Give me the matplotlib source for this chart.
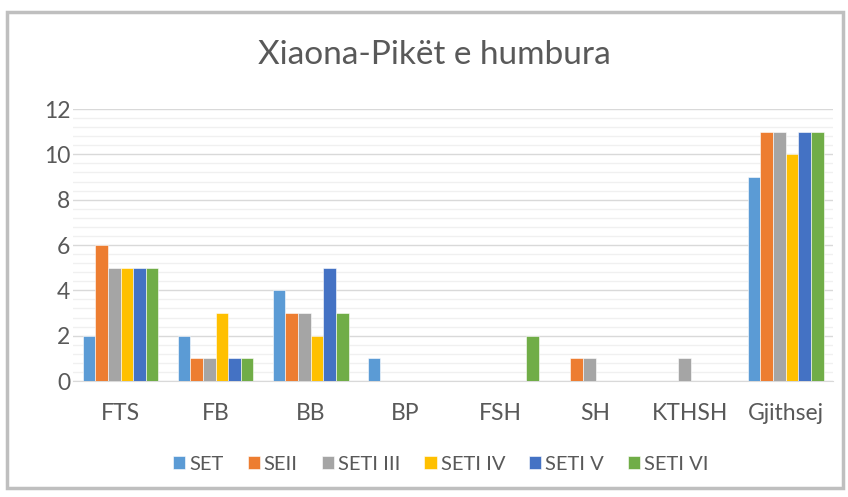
import numpy as np
import matplotlib
matplotlib.use("Agg")
import matplotlib.pyplot as plt
from matplotlib.patches import Rectangle
from matplotlib.ticker import MultipleLocator

plt.rcParams['font.family'] = ['Lato', 'DejaVu Sans']

categories = ['FTS', 'FB', 'BB', 'BP', 'FSH', 'SH', 'KTHSH', 'Gjithsej']
series_names = ['SET', 'SEII', 'SETI III', 'SETI IV', 'SETI V', 'SETI VI']
set_1 = [2, 2, 4, 1, 0, 0, 0, 9]
set_2 = [6, 1, 3, 0, 0, 1, 0, 11]
set_3 = [5, 1, 3, 0, 0, 1, 1, 11]
set_4 = [5, 3, 2, 0, 0, 0, 0, 10]
set_5 = [5, 1, 5, 0, 0, 0, 0, 11]
set_6 = [5, 1, 3, 0, 2, 0, 0, 11]
all_series = [set_1, set_2, set_3, set_4, set_5, set_6]
colors = ['#5B9BD5', '#ED7D31', '#A5A5A5', '#FFC000', '#4472C4', '#70AD47']

fig = plt.figure(figsize=(8.48, 4.97), dpi=100)
ax = fig.add_axes([73/848, 1-381/497, 760/848, 272/497])

# frame around the chart like the office screenshot
fig.patches.append(Rectangle((7/848, 1-488/497), 836/848, 476/497, transform=fig.transFigure,
                             fill=False, edgecolor='#BFBFBF', linewidth=2.5))

x = np.arange(len(categories))
w = 0.8 / len(all_series)
for i, (vals, name, c) in enumerate(zip(all_series, series_names, colors)):
    ax.bar(x - 0.4 + w*(i+0.5), vals, w, color=c, label=name, edgecolor='white', linewidth=0.4, zorder=3)

ax.set_xlim(-0.5, len(categories)-0.5)
ax.set_ylim(0, 12)
ax.yaxis.set_major_locator(MultipleLocator(2))
ax.yaxis.set_minor_locator(MultipleLocator(0.4))
ax.grid(axis='y', which='major', color='#D9D9D9', linewidth=1, zorder=0)
ax.grid(axis='y', which='minor', color='#F0F0F0', linewidth=1, zorder=0)
ax.set_xticks(x)
ax.set_xticklabels(categories)
for s in ['top', 'right', 'left']:
    ax.spines[s].set_visible(False)
ax.spines['bottom'].set_color('#D9D9D9')
ax.tick_params(axis='both', which='both', length=0, colors='#595959', labelsize=16.5)
ax.tick_params(axis='x', pad=16)
ax.tick_params(axis='y', pad=2)

fig.text(0.512, 1-55/497, 'Xiaona-Pikët e humbura', ha='center', va='center', fontsize=24, color='#595959')

fig.legend(loc='center', bbox_to_anchor=(0.52, 1-464/497), ncol=6, frameon=False, fontsize=14.5,
           handlelength=0.6, handleheight=0.6, handletextpad=0.2, columnspacing=1.2, labelcolor='#595959')

fig.savefig('out.png', dpi=100)
